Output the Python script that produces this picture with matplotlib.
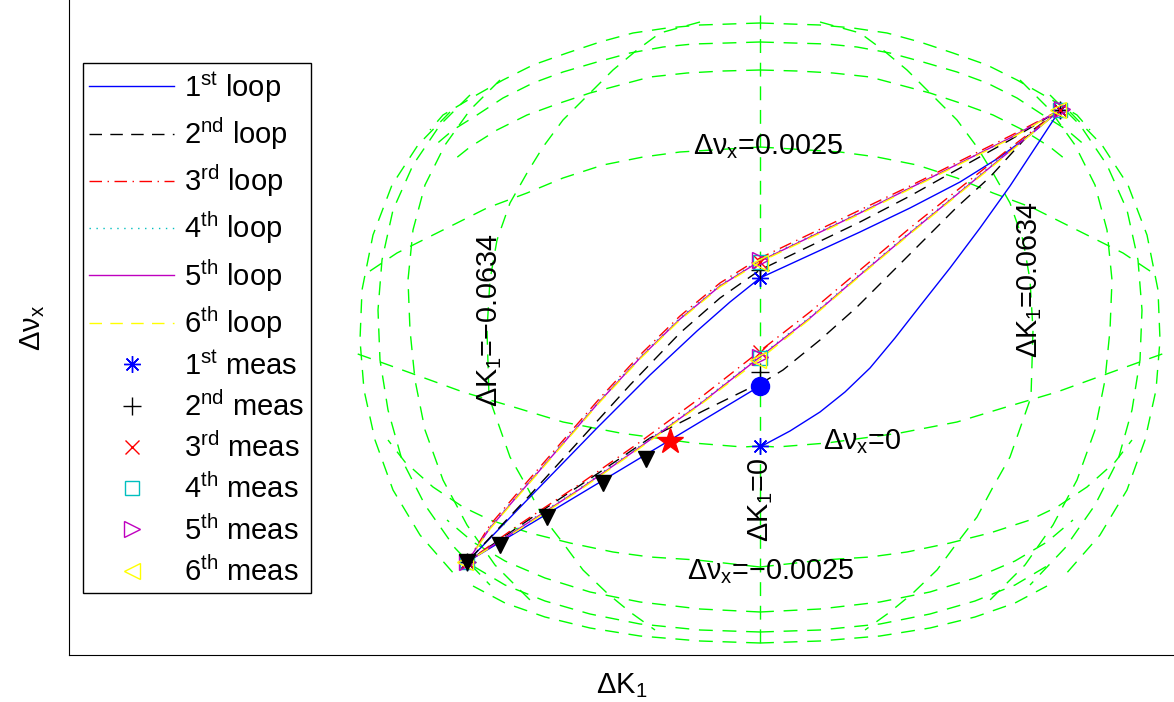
import numpy as np
import matplotlib.pyplot as plt

plt.rcParams['font.family'] = ['Liberation Sans', 'DejaVu Sans']
plt.rcParams['mathtext.fontset'] = 'custom'
plt.rcParams['mathtext.rm'] = 'Liberation Sans'
plt.rcParams['mathtext.it'] = 'Liberation Sans:italic'

# chart has no ticks: values are read in the picture's own frame
# (x to the right, y downwards, centre line of the grid at x = 760)
CENTRE_X = 760

# grid lines of constant tune change (left halves, mirrored about the centre line)
nux_lines = [
    [(760, 23), (700, 25), (667, 28), (633, 33), (600, 42), (567, 53), (533, 65), (503, 80), (473, 97), (443, 115), (430, 130)],
    [(760, 42), (727, 43), (693, 44), (663, 47), (630, 53), (597, 62), (563, 72), (533, 83), (503, 98), (477, 115), (453, 130), (433, 147)],
    [(760, 70), (723, 71), (687, 73), (650, 77), (620, 85), (590, 93), (560, 103), (527, 115), (497, 130), (470, 147), (450, 163)],
    [(760, 147), (680, 152), (643, 157), (603, 165), (563, 178), (527, 193), (487, 208), (457, 223), (427, 238), (397, 253), (367, 273)],
    [(760, 446), (743, 447), (693, 443), (620, 433), (563, 422), (517, 408), (463, 392), (430, 380), (383, 363), (355, 353)],
    [(760, 567), (697, 560), (650, 557), (613, 552), (570, 543), (530, 533), (490, 520), (463, 507), (433, 487), (405, 462), (388, 440)],
    [(760, 612), (700, 609), (640, 602), (590, 592), (545, 578), (505, 561), (473, 542), (447, 520)],
    [(760, 632), (700, 630), (640, 624), (590, 614), (545, 601), (505, 585), (473, 566)],
    [(760, 643), (700, 641), (640, 636), (590, 628), (545, 617), (505, 603), (473, 586)],
]

# grid lines of constant K1 change (left side, mirrored)
k1_lines = [
    [(700, 22), (660, 33), (637, 50), (613, 70), (590, 93), (563, 120), (543, 147), (527, 173), (510, 203), (497, 240), (490, 280),
     (487, 330), (489, 397), (497, 420), (510, 457), (527, 487), (543, 517), (563, 543), (583, 570), (607, 593), (630, 612), (655, 630)],
    [(500, 80), (470, 110), (445, 145), (425, 185), (413, 230), (408, 280), (410, 330), (415, 380), (425, 430), (443, 480), (467, 525), (495, 565), (530, 600)],
    [(470, 95), (440, 125), (413, 165), (393, 210), (382, 260), (378, 310), (380, 360), (388, 410), (402, 460), (425, 505), (455, 548), (490, 585)],
    [(450, 112), (418, 145), (392, 185), (373, 235), (362, 290), (360, 340), (364, 390), (375, 440), (393, 490), (420, 535), (455, 575)],
]
k1_centre = [(760, 15), (760, 648)]

# loops
loop1 = [(760, 447), (790, 431), (820, 412), (845, 392), (870, 368), (895, 338), (920, 306), (950, 268), (980, 228), (1010, 186),
         (1035, 148), (1060, 110),
         (1030, 135), (1000, 157), (960, 182), (910, 208), (860, 232), (810, 255), (760, 278), (730, 302), (697, 331),
         (650, 375), (597, 428), (530, 497), (467, 562),
         (760, 386)]
loop2 = [(760, 384), (783, 370), (820, 340), (857, 307), (907, 257), (957, 207), (990, 177), (1033, 130), (1060, 110),
         (1010, 140), (960, 168), (910, 196), (860, 222), (810, 246), (760, 270), (720, 298), (680, 333), (630, 385),
         (580, 440), (530, 495), (467, 562),
         (543, 510), (600, 472), (650, 438), (705, 410), (760, 383)]
loop3 = [(1060, 110), (1010, 136), (960, 161), (910, 186), (860, 210), (810, 234), (760, 258), (720, 283), (680, 316), (640, 355),
         (600, 398), (560, 444), (520, 490), (490, 525), (467, 562),
         (520, 524), (580, 484), (640, 442), (700, 398), (760, 351), (810, 312), (860, 270), (910, 228), (960, 188), (1010, 148),
         (1060, 110)]
loop4 = [(1060, 110), (1010, 138), (960, 163), (910, 188), (860, 212), (810, 236), (760, 260), (720, 285), (680, 318), (640, 357),
         (600, 400), (560, 446), (520, 492), (490, 527), (467, 562),
         (520, 527), (580, 488), (640, 446), (700, 403), (760, 356), (810, 317), (860, 274), (910, 232), (960, 191), (1010, 150),
         (1060, 110)]
loop5 = [(1060, 110), (1010, 138), (960, 163), (910, 188), (860, 213), (810, 237), (760, 261), (720, 286), (680, 319), (640, 358),
         (600, 401), (560, 447), (520, 493), (490, 528), (467, 562),
         (520, 528), (580, 489), (640, 447), (700, 404), (760, 357), (810, 318), (860, 275), (910, 233), (960, 192), (1010, 151),
         (1060, 110)]
loop6 = [(1060, 110), (1010, 139), (960, 164), (910, 189), (860, 214), (810, 238), (760, 262), (720, 287), (680, 320), (640, 359),
         (600, 402), (560, 448), (520, 494), (490, 529), (467, 562),
         (520, 529), (580, 490), (640, 448), (700, 405), (760, 359), (810, 319), (860, 276), (910, 234), (960, 193), (1010, 152),
         (1060, 110)]

# measurements
meas1 = [(760, 446), (1060, 110), (760, 278), (467, 562)]
meas2 = [(1060, 110), (760, 270), (467, 562), (760, 372)]
meas3 = [(1060, 110), (760, 262), (467, 562), (760, 352)]
meas4 = [(1060, 110), (760, 262), (467, 562), (760, 358)]
meas5 = [(1062, 109), (760, 260), (467, 562), (760, 357)]
meas6 = [(1058, 110), (760, 263), (465, 562), (758, 360)]

steps = [(467, 562), (500, 545), (547, 517), (603, 483), (646, 459)]
star = [(670, 441)]
dot = [(760, 386)]

grid_labels = [
    ('Δν$_{\\rm x}$=0.0025', 768, 147, 0),
    ('Δν$_{\\rm x}$=0', 862, 442, 0),
    ('Δν$_{\\rm x}$=\u22120.0025', 770, 572, 0),
    ('ΔK$_{\\rm 1}$=\u22120.0634', 490, 320, 90),
    ('ΔK$_{\\rm 1}$=0.0634', 1030, 280, 90),
    ('ΔK$_{\\rm 1}$=0', 761, 500, 90),
]

loop_names = ['1$^{\\rm st}$ loop', '2$^{\\rm nd}$ loop', '3$^{\\rm rd}$ loop', '4$^{\\rm th}$ loop', '5$^{\\rm th}$ loop', '6$^{\\rm th}$ loop']
meas_names = ['1$^{\\rm st}$ meas', '2$^{\\rm nd}$ meas', '3$^{\\rm rd}$ meas', '4$^{\\rm th}$ meas', '5$^{\\rm th}$ meas', '6$^{\\rm th}$ meas']


def xy(pts):
    a = np.array(pts, dtype=float)
    return a[:, 0], a[:, 1]


fig = plt.figure(figsize=(11.74, 7.02), dpi=100)
ax = fig.add_axes([69 / 1174, 47 / 702, 1105 / 1174, 655 / 702])
ax.set_xlim(69, 1174)
ax.set_ylim(655, 0)

green = '#00ff00'
gkw = dict(color=green, lw=1.0, dashes=(10, 7), zorder=1)
for line in nux_lines + k1_lines:
    x, y = xy(line)
    ax.plot(x, y, **gkw)
    ax.plot(2 * CENTRE_X - x, y, **gkw)
x, y = xy(k1_centre)
ax.plot(x, y, **gkw)

lkw = dict(lw=1.0, zorder=3)
styles = [
    dict(color='b', ls='-'),
    dict(color='k', dashes=(9, 6)),
    dict(color='r', dashes=(9, 4, 1, 4)),
    dict(color='c', dashes=(1, 4)),
    dict(color='m', ls='-'),
    dict(color='#ffff00', dashes=(9, 6)),
]
handles = []
for pts, st, name in zip([loop1, loop2, loop3, loop4, loop5, loop6], styles, loop_names):
    x, y = xy(pts)
    h, = ax.plot(x, y, label=name, **st, **lkw)
    handles.append(h)

asterisk = (8, 2, 0)
mstyles = [
    dict(marker=asterisk, color='b', ms=12, mew=1.0),
    dict(marker='+', color='k', ms=13, mew=1.0),
    dict(marker='x', color='r', ms=10, mew=1.0),
    dict(marker='s', color='c', ms=10, mew=1.0, mfc='none'),
    dict(marker='>', color='m', ms=11, mew=1.0, mfc='none'),
    dict(marker='<', color='#ffff00', ms=11, mew=1.0, mfc='none'),
]
for pts, st, name in zip([meas1, meas2, meas3, meas4, meas5, meas6], mstyles, meas_names):
    x, y = xy(pts)
    h, = ax.plot(x, y, ls='none', label=name, zorder=4, **st)
    handles.append(h)

x, y = xy(steps)
ax.plot(x, y, ls='none', marker='v', color='k', ms=11, zorder=5)
x, y = xy(star)
ax.plot(x, y, ls='none', marker='*', color='r', ms=19, zorder=5)
x, y = xy(dot)
ax.plot(x, y, ls='none', marker='o', color='b', ms=13, zorder=5)

for txt, tx, ty, rot in grid_labels:
    ax.text(tx, ty, txt, fontsize=20.7, ha='center', va='center', rotation=rot, zorder=6)

ax.set_xticks([])
ax.set_yticks([])
for s in ['top', 'right']:
    ax.spines[s].set_visible(False)
ax.set_xlabel('ΔK$_{\\rm 1}$', fontsize=21, labelpad=12)
ax.set_ylabel('Δν$_{\\rm x}$', fontsize=21, labelpad=16)

leg = ax.legend(handles=handles, loc='upper left', bbox_to_anchor=(14 / 1105, 1 - 63 / 655), borderaxespad=0,
                fontsize=21, frameon=True, fancybox=False, edgecolor='k', framealpha=1,
                handlelength=2.9, handletextpad=0.35, labelspacing=0.365, borderpad=0.22)
leg.get_frame().set_linewidth(1.0)

fig.savefig('out.png', dpi=100)
